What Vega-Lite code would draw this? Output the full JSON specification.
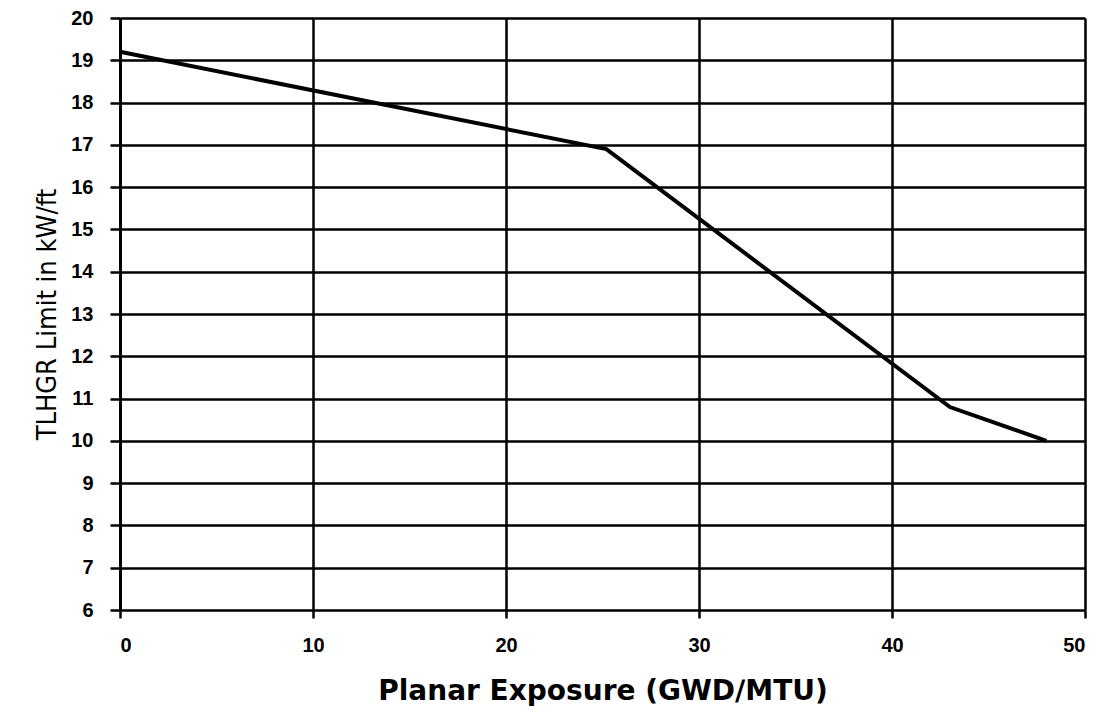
{
  "$schema": "https://vega.github.io/schema/vega-lite/v6.json",
  "autosize": "none",
  "width": 965,
  "height": 592,
  "padding": {"left": 120, "top": 18, "right": 23, "bottom": 102},
  "background": "white",
  "config": {"view": {"stroke": null}},
  "data": {"values": [
    {"x": 0, "y": 19.2},
    {"x": 25.2, "y": 16.9},
    {"x": 43, "y": 10.8},
    {"x": 48, "y": 10.0}
  ]},
  "mark": {"type": "line", "color": "black", "strokeWidth": 4},
  "encoding": {
    "x": {"field": "x", "type": "quantitative",
      "scale": {"domain": [0, 50], "nice": false},
      "axis": {"title": "Planar Exposure (GWD\u2215MTU)", "values": [0,10,20,30,40,50],
        "grid": true, "gridColor": "black", "gridWidth": 2.5, "gridOpacity": 1,
        "domain": false, "tickColor": "black", "tickWidth": 2.5, "tickSize": 8,
        "labelFont": "Liberation Sans", "labelFontWeight": "bold", "labelFontSize": 20, "labelColor": "black", "labelPadding": 17,
        "titleFont": "DejaVu Sans", "titleFontWeight": "bold", "titleFontSize": 28, "titleColor": "black", "titlePadding": 22}},
    "y": {"field": "y", "type": "quantitative",
      "scale": {"domain": [6, 20], "nice": false, "zero": false},
      "axis": {"title": "TLHGR Limit in kW/ft", "values": [6,7,8,9,10,11,12,13,14,15,16,17,18,19,20],
        "grid": true, "gridColor": "black", "gridWidth": 2.5, "gridOpacity": 1,
        "domain": true, "domainColor": "black", "domainWidth": 3,
        "tickColor": "black", "tickWidth": 2.5, "tickSize": 10,
        "labelFont": "Liberation Sans", "labelFontWeight": "bold", "labelFontSize": 20, "labelColor": "black", "labelPadding": 17,
        "titleFont": "DejaVu Sans Condensed", "titleFontWeight": "normal", "titleFontSize": 27, "titleColor": "black", "titlePadding": 9}}
  }
}
